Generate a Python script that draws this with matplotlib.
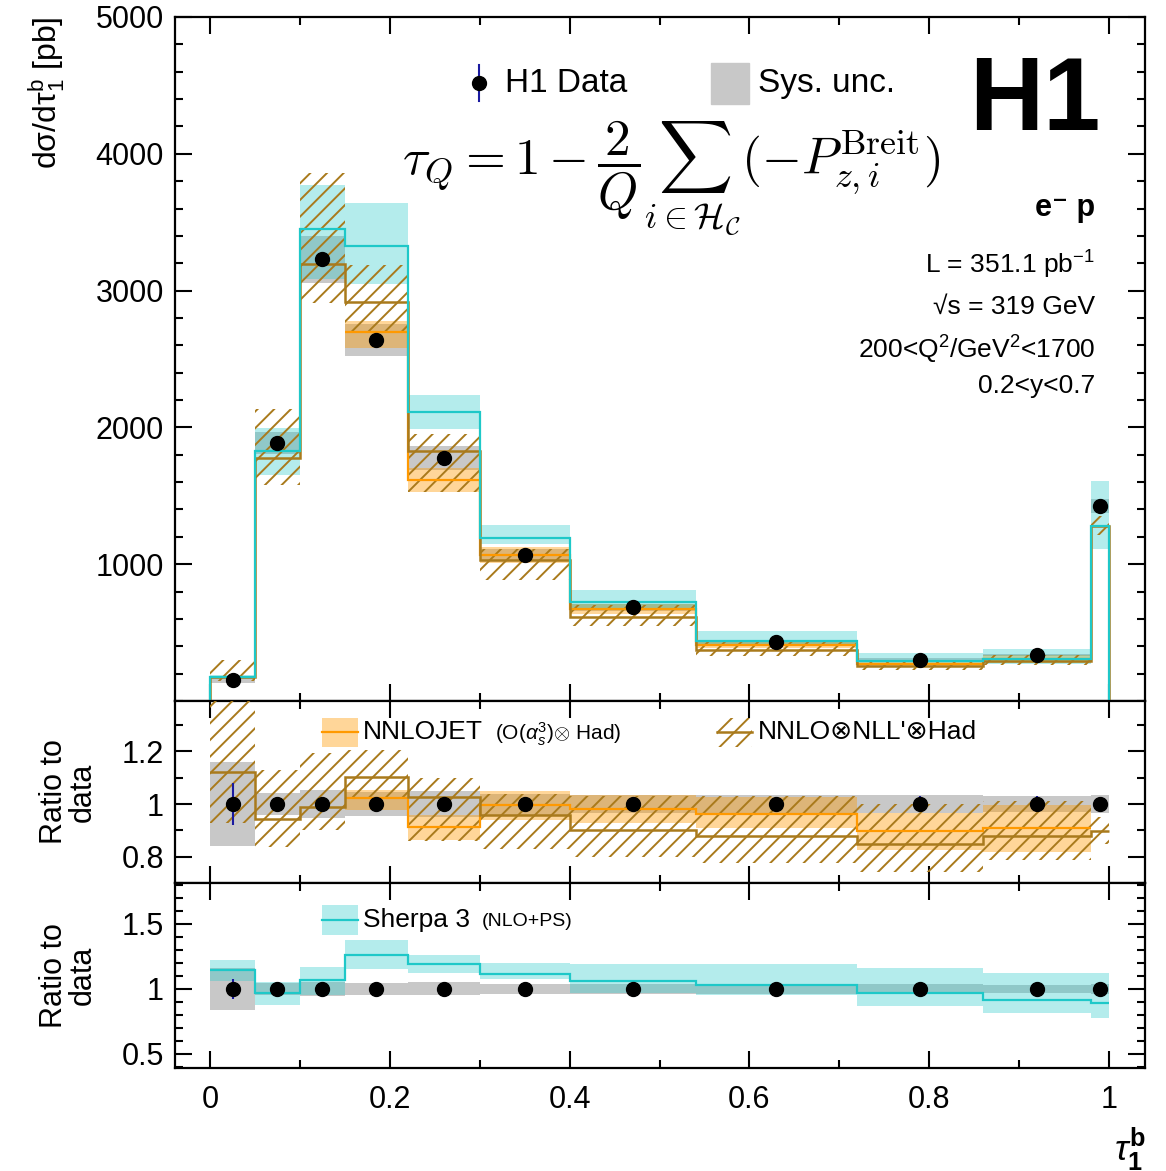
import numpy as np
import matplotlib
matplotlib.use('Agg')
import matplotlib.pyplot as plt
from matplotlib.patches import Rectangle
from matplotlib.ticker import MultipleLocator, FuncFormatter

plt.rcParams['font.family'] = ['Liberation Sans', 'DejaVu Sans']
plt.rcParams['mathtext.fontset'] = 'custom'
plt.rcParams['mathtext.rm'] = 'Liberation Sans'
plt.rcParams['mathtext.it'] = 'Liberation Sans:italic'
plt.rcParams['mathtext.bf'] = 'Liberation Sans:bold'
plt.rcParams['hatch.linewidth'] = 1.4

# bins of tau_1^b and the measured points
edges = [0, 0.05, 0.1, 0.15, 0.22, 0.3, 0.4, 0.54, 0.72, 0.86, 0.98, 1.0]
centers = [0.025, 0.075, 0.125, 0.185, 0.26, 0.35, 0.47, 0.63, 0.79, 0.92, 0.99]
data_xsec = [154, 1887, 3230, 2640, 1775, 1070, 684, 428, 303, 336, 1426]
stat_rel = [0.08, 0.01, 0.008, 0.008, 0.01, 0.012, 0.015, 0.02, 0.03, 0.03, 0.025]
sys_rel = [0.16, 0.043, 0.053, 0.045, 0.05, 0.04, 0.035, 0.035, 0.035, 0.03, 0.035]

# NNLOJET only exists for bins 4..10
nnlojet_edges = [0.15, 0.22, 0.3, 0.4, 0.54, 0.72, 0.86, 0.98]
nnlojet_ratio = [1.022, 0.912, 0.996, 0.98, 0.962, 0.898, 0.908]
nnlojet_lo = [0.977, 0.862, 0.94, 0.927, 0.91, 0.825, 0.818]
nnlojet_hi = [1.053, 0.958, 1.05, 1.034, 1.028, 0.966, 0.996]

# NNLO x NLL' x Had
nnll_ratio = [1.123, 0.943, 0.99, 1.104, 1.028, 0.96, 0.90, 0.879, 0.847, 0.878, 0.896]
nnll_lo = [0.93, 0.835, 0.90, 1.02, 0.86, 0.83, 0.80, 0.775, 0.742, 0.787, 0.85]
nnll_hi = [1.95, 1.13, 1.194, 1.206, 1.10, 1.04, 1.03, 1.03, 1.0, 1.01, 0.95]

# Sherpa 3
sherpa_ratio = [1.146, 0.969, 1.069, 1.26, 1.19, 1.115, 1.06, 1.031, 0.969, 0.915, 0.895]
sherpa_lo = [1.06, 0.877, 0.954, 1.155, 1.12, 1.075, 0.97, 0.954, 0.869, 0.815, 0.777]
sherpa_hi = [1.223, 1.056, 1.168, 1.38, 1.26, 1.2, 1.19, 1.19, 1.162, 1.123, 1.126]

grey = '#c8c8c8'
cyan = '#1ec8c8'
orange = '#ff9900'
brown = '#a97a1c'
blue = '#1a1aa0'

data = np.array(data_xsec, dtype=float)
nnlo_data = data[3:10]


def style_axis(ax):
    ax.set_xlim(-0.039, 1.04)
    ax.tick_params(which='both', direction='in', top=True, right=True, width=1.5,
                   labelsize=22, pad=8)
    ax.tick_params(which='major', length=12)
    ax.tick_params(which='minor', length=6)
    for s in ax.spines.values():
        s.set_linewidth(1.6)
    ax.xaxis.set_major_locator(MultipleLocator(0.2))
    ax.xaxis.set_minor_locator(MultipleLocator(0.1))
    ax.xaxis.set_major_formatter(FuncFormatter(lambda v, p: f'{v:g}'))
    ax.yaxis.set_major_formatter(FuncFormatter(lambda v, p: f'{v:g}'))


def band(ax, e, lo, hi, **kw):
    ax.stairs(hi, e, baseline=lo, fill=True, linewidth=0, **kw)


def hatched(ax, e, lo, hi, z=3):
    ax.stairs(hi, e, baseline=lo, fill=True, facecolor='none', edgecolor=brown,
              hatch='//', linewidth=0, zorder=z)


fig = plt.figure(figsize=(11.66, 11.71), dpi=100)
L, W = 175 / 1166, 970 / 1166
ax1 = fig.add_axes([L, 1 - 701 / 1171, W, 684 / 1171])
ax2 = fig.add_axes([L, 1 - 883 / 1171, W, 182 / 1171])
ax3 = fig.add_axes([L, 1 - 1068 / 1171, W, 185 / 1171])

# ---------- top panel ----------
sys_abs = data * np.array(sys_rel)
band(ax1, edges, data - sys_abs, data + sys_abs, color=grey, zorder=1)
band(ax1, nnlojet_edges, nnlo_data * np.array(nnlojet_lo), nnlo_data * np.array(nnlojet_hi),
     color=orange, alpha=0.4, zorder=2)
band(ax1, edges, data * np.array(sherpa_lo), data * np.array(sherpa_hi),
     color=cyan, alpha=0.33, zorder=2)
hatched(ax1, edges, data * np.array(nnll_lo), data * np.array(nnll_hi))
ax1.stairs(nnlo_data * np.array(nnlojet_ratio), nnlojet_edges, baseline=None,
           color=orange, lw=1.6, zorder=4)
ax1.stairs(data * np.array(nnll_ratio), edges, baseline=0, color=brown, lw=1.8, zorder=4)
ax1.stairs(data * np.array(sherpa_ratio), edges, baseline=0, color=cyan, lw=1.6, zorder=4)
ax1.errorbar(centers, data, yerr=data * np.array(stat_rel), fmt='o', color='black',
             ecolor=blue, ms=10, elinewidth=1.5, capsize=0, zorder=10)

style_axis(ax1)
ax1.set_ylim(0, 5000)
ax1.set_yticks([1000, 2000, 3000, 4000, 5000])
ax1.yaxis.set_minor_locator(MultipleLocator(200))
ax1.tick_params(labelbottom=False)
ax1.set_ylabel(r'dσ/dτ$_{1}^{\mathrm{b}}$ [pb]', fontsize=23, loc='top')
ax1.yaxis.set_label_coords(-0.111, 1.0)

# legend of top panel
t = ax1.transAxes
ax1.plot([0.3134], [0.9035], 'o', color='black', ms=10, transform=t, zorder=11)
ax1.plot([0.3134, 0.3134], [0.877, 0.930], color=blue, lw=1.5, transform=t, zorder=10)
ax1.text(0.340, 0.9035, 'H1 Data', fontsize=24, va='center', transform=t)
ax1.add_patch(Rectangle((0.553, 0.873), 0.039, 0.060, color=grey, transform=t))
ax1.text(0.601, 0.9035, 'Sys. unc.', fontsize=24, va='center', transform=t)
ax1.text(0.8866, 0.874, 'H1', fontsize=74, fontweight='heavy', ha='center', va='center',
         transform=t)
ax1.text(0.511, 0.763,
         r'$\tau_Q = 1 - \dfrac{2}{Q}\sum_{i\in\mathcal{H}_\mathcal{C}}(-P_{z,i}^{\mathrm{Breit}})$',
         fontsize=37, ha='center', va='center', math_fontfamily='cm', transform=t)
info = [('e⁻ p', 0.7208, 'bold'),
        ('L = 351.1 pb$^{-1}$', 0.637, 'normal'),
        ('√s = 319 GeV', 0.576, 'normal'),
        ('200<Q$^{2}$/GeV$^{2}$<1700', 0.513, 'normal'),
        ('0.2<y<0.7', 0.4605, 'normal')]
for txt, yy, wt in info:
    ax1.text(0.9485, yy, txt, fontsize=19 if wt == 'normal' else 22, fontweight=wt,
             ha='right', va='center', transform=t)

# ---------- middle panel: fixed order / resummed ratios ----------
ones = np.ones(len(edges) - 1)
sys_r = np.array(sys_rel)
band(ax2, edges, ones - sys_r, ones + sys_r, color=grey, zorder=1)
band(ax2, nnlojet_edges, nnlojet_lo, nnlojet_hi, color=orange, alpha=0.4, zorder=2)
hatched(ax2, edges, nnll_lo, nnll_hi)
ax2.stairs(nnlojet_ratio, nnlojet_edges, baseline=None, color=orange, lw=1.6, zorder=4)
ax2.stairs(nnll_ratio, edges, baseline=None, color=brown, lw=1.8, zorder=4)
ax2.errorbar(centers, ones, yerr=stat_rel, fmt='o', color='black', ecolor=blue,
             ms=10, elinewidth=1.5, capsize=0, zorder=10)
style_axis(ax2)
ax2.set_ylim(0.7, 1.392)
ax2.set_yticks([0.8, 1.0, 1.2])
ax2.yaxis.set_minor_locator(MultipleLocator(0.1))
ax2.tick_params(labelbottom=False)
ax2.set_ylabel('Ratio to\ndata', fontsize=22, linespacing=0.95)
ax2.yaxis.set_label_coords(-0.080, 0.5)

t2 = ax2.transAxes
ax2.add_patch(Rectangle((0.1515, 0.747), 0.037, 0.16, color=orange, alpha=0.4,
                        lw=0, transform=t2))
ax2.plot([0.1515, 0.1886], [0.827, 0.827], color=orange, lw=1.6, transform=t2)
ax2.text(0.1938, 0.827, 'NNLOJET', fontsize=19, va='center', transform=t2)
ax2.text(0.330, 0.815, r'(O($\alpha_s^3$)$\otimes$ Had)', fontsize=15, va='center',
         transform=t2)
ax2.add_patch(Rectangle((0.559, 0.747), 0.036, 0.16, facecolor='none', edgecolor=brown,
                        hatch='//', lw=0, transform=t2))
ax2.plot([0.559, 0.595], [0.827, 0.827], color=brown, lw=1.8, transform=t2)
ax2.text(0.601, 0.827, "NNLO⊗NLL'⊗Had", fontsize=19, va='center', transform=t2)

# ---------- bottom panel: Sherpa ratio ----------
band(ax3, edges, ones - sys_r, ones + sys_r, color=grey, zorder=1)
band(ax3, edges, sherpa_lo, sherpa_hi, color=cyan, alpha=0.33, zorder=2)
ax3.stairs(sherpa_ratio, edges, baseline=None, color=cyan, lw=1.6, zorder=4)
ax3.errorbar(centers, ones, yerr=stat_rel, fmt='o', color='black', ecolor=blue,
             ms=10, elinewidth=1.5, capsize=0, zorder=10)
style_axis(ax3)
ax3.set_ylim(0.392, 1.815)
ax3.set_yticks([0.5, 1.0, 1.5])
ax3.yaxis.set_minor_locator(MultipleLocator(0.1))
ax3.tick_params(axis='x', pad=12)
ax3.set_ylabel('Ratio to\ndata', fontsize=22, linespacing=0.95)
ax3.yaxis.set_label_coords(-0.080, 0.5)
ax3.set_xlabel(r'$\tau_{\mathbf{1}}^{\mathbf{b}}$', fontsize=26, loc='right', labelpad=8)

t3 = ax3.transAxes
ax3.add_patch(Rectangle((0.1515, 0.719), 0.037, 0.162, color=cyan, alpha=0.33,
                        lw=0, transform=t3))
ax3.plot([0.1515, 0.1886], [0.80, 0.80], color=cyan, lw=1.6, transform=t3)
ax3.text(0.1938, 0.80, 'Sherpa 3', fontsize=19, va='center', transform=t3)
ax3.text(0.3165, 0.79, '(NLO+PS)', fontsize=14, va='center', transform=t3)

fig.savefig('out.png', dpi=100)
